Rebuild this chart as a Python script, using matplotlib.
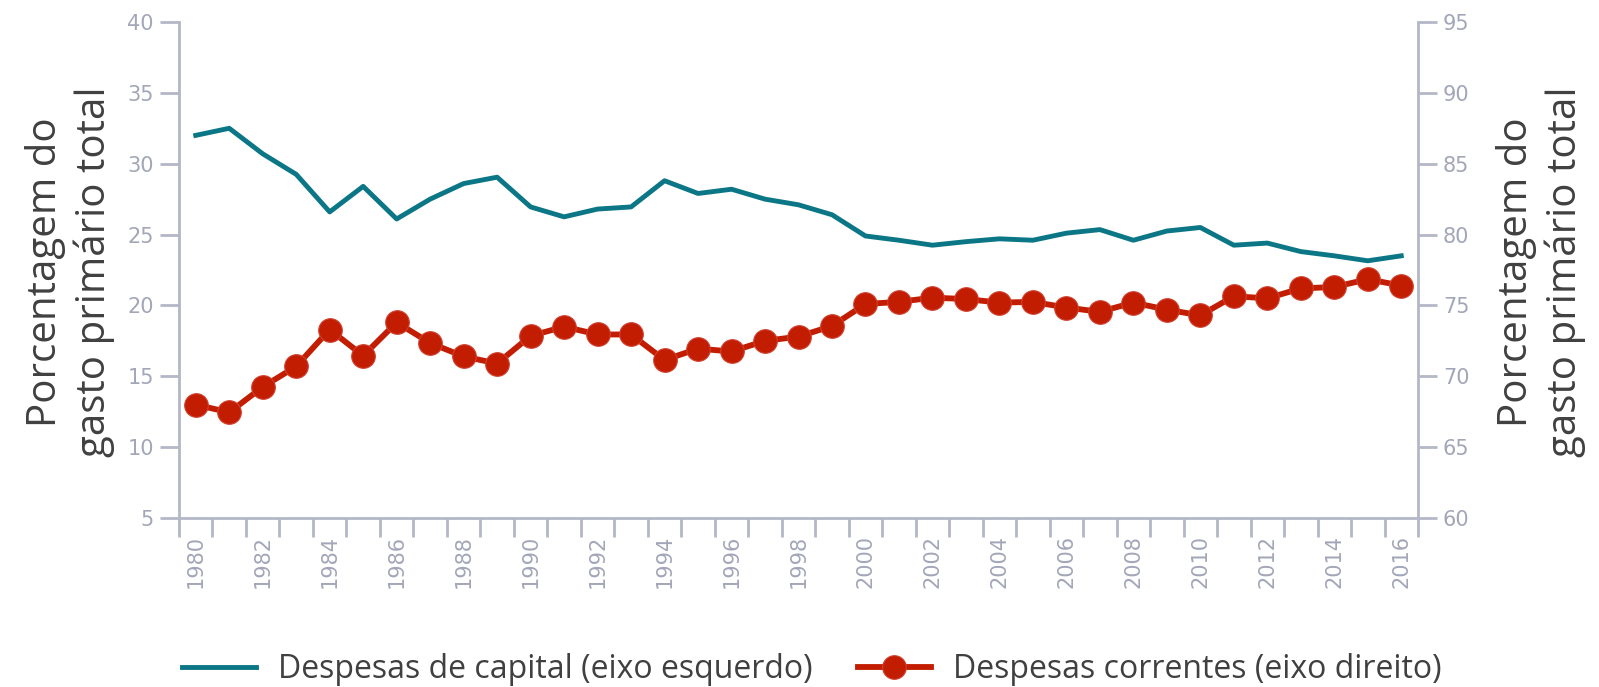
"""
Despesas de capital x correntes (% do gasto primário total), 1980-2016
dois eixos: capital à esquerda, correntes à direita
"""
import numpy as np
from matplotlib import pyplot as plt

anos = list(range(1980, 2017))
capital = [32.0, 32.5, 30.7, 29.25, 26.6, 28.4, 26.1, 27.5, 28.6, 29.05, 26.95, 26.25, 26.8, 26.95, 28.8, 27.9, 28.2, 27.5,
           27.1, 26.4, 24.9, 24.6, 24.25, 24.5, 24.7, 24.6, 25.1, 25.35, 24.6, 25.25, 25.5, 24.25, 24.4, 23.8, 23.5, 23.15, 23.5]
correntes = [68.0, 67.45, 69.25, 70.7, 73.3, 71.45, 73.8, 72.35, 71.4, 70.9, 72.85, 73.5, 72.95, 72.95, 71.15, 71.95, 71.75, 72.5,
             72.8, 73.55, 75.1, 75.25, 75.55, 75.45, 75.2, 75.25, 74.85, 74.55, 75.2, 74.7, 74.3, 75.65, 75.5, 76.2, 76.3, 76.85, 76.4]

rotulo_y = "Porcentagem do\ngasto primário total"
leg_capital = "Despesas de capital (eixo esquerdo)"
leg_correntes = "Despesas correntes (eixo direito)"

cor_capital = "#0b7686"
cor_correntes = "#c21d00"
cor_eixo = "#b3b7c6"
cor_tick = "#a2a6b8"
cor_texto = "#404040"

fig = plt.figure(figsize=(15.99, 6.87), dpi=100)
ax = fig.add_axes([179/1599, 1-518/687, (1418-179)/1599, (518-22)/687])
ax2 = ax.twinx()

l1, = ax.plot(anos, capital, color=cor_capital, lw=3.5, solid_joinstyle="round")
l2, = ax2.plot(anos, correntes, color=cor_correntes, lw=4.2, marker="o", markersize=17,
               markeredgecolor="#d04030", markeredgewidth=0.8)

ax.set_xlim(anos[0]-0.5, anos[-1]+0.5)
ax.set_ylim(5, 40)
ax2.set_ylim(60, 95)
ax.set_yticks(range(5, 41, 5))
ax2.set_yticks(range(60, 96, 5))

# rótulos no centro de cada categoria, traços entre as categorias
ax.set_xticks(anos[::2])
ax.set_xticklabels([str(a) for a in anos[::2]], rotation=90)
ax.set_xticks(np.arange(anos[0]-0.5, anos[-1]+1), minor=True)
ax.tick_params(axis="x", which="major", length=0, pad=12, labelsize=15, labelcolor=cor_tick)
ax.tick_params(axis="x", which="minor", length=14, width=2, color=cor_eixo)

for a in (ax, ax2):
    a.tick_params(axis="y", direction="out", length=14, width=2, color=cor_eixo,
                  labelcolor=cor_tick, labelsize=15, pad=4)
    for s in a.spines.values():
        s.set_color(cor_eixo)
        s.set_linewidth(2)
    a.spines["top"].set_visible(False)
ax.spines["right"].set_visible(False)
ax2.spines["left"].set_visible(False)
ax2.spines["bottom"].set_visible(False)

fonte = ["Open Sans", "DejaVu Sans"]
fig.text(70/1599, 1-272/687, rotulo_y, rotation=90, ha="center", va="center", multialignment="center",
         fontsize=29, color=cor_texto, family=fonte, linespacing=1.25)
fig.text(1541/1599, 1-272/687, rotulo_y, rotation=90, ha="center", va="center", multialignment="center",
         fontsize=29, color=cor_texto, family=fonte, linespacing=1.25)

fig.legend([l1, l2], [leg_capital, leg_correntes], loc="center", bbox_to_anchor=(0.508, 1-670/687),
           ncol=2, frameon=False, handlelength=2.3, columnspacing=1.4, handletextpad=0.7,
           prop={"family": fonte, "size": 23}, labelcolor=cor_texto)

plt.savefig("out.png", dpi=100)
